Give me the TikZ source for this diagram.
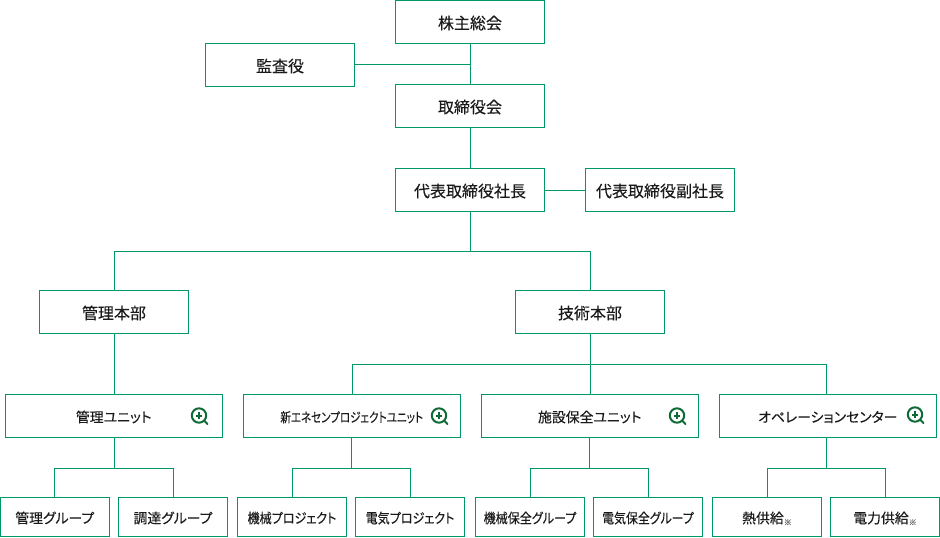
\documentclass[tikz,border=0pt]{standalone}
\usepackage{graphicx}
\usepackage{fontspec}
\setmainfont{Noto Sans CJK JP}[RawFeature={+palt}, FakeBold=0.2]
\definecolor{linegreen}{HTML}{009966}
\definecolor{icongreen}{HTML}{0F6B35}
\definecolor{labelgray}{HTML}{1A1A1A}
\tikzset{
  orgbox/.style={rectangle, draw=linegreen, line width=0.75pt, outer sep=0pt, inner sep=0pt, text=labelgray},
  topbox/.style={orgbox, minimum width=111.75pt, minimum height=32.25pt, text height=10.6pt, text depth=0pt, font=\fontsize{12pt}{14pt}\selectfont},
  unitbox/.style={orgbox, minimum width=162.4pt, minimum height=32.25pt, text height=9.4pt, text depth=0pt, font=\fontsize{10.4pt}{13pt}\selectfont},
  leafbox/.style={orgbox, minimum width=81.75pt, minimum height=29.25pt, text height=9.4pt, text depth=0pt, font=\fontsize{10.4pt}{13pt}\selectfont},
  conn/.style={draw=linegreen, line width=0.75pt},
  zoomicon/.pic={
    \draw[icongreen, line width=1.5pt] (0, 0) circle (5.4pt);
    \draw[icongreen, line width=1.5pt, line cap=round] (4pt, -4pt) -- (6.4pt, -6.4pt);
    \draw[icongreen, line width=1.5pt] (-2.6pt, 0) -- (2.6pt, 0) (0, -2.6pt) -- (0, 2.6pt);
  }
}
\newcommand{\kome}{\raisebox{-1.5pt}{\fontsize{6pt}{6pt}\selectfont\color{labelgray!65}※}}
\newcommand{\squeeze}[2]{\scalebox{#1}[1]{#2}}
\begin{document}
\begin{tikzpicture}[x=0.75pt, y=-0.75pt]
  \useasboundingbox (0, 0) rectangle (940, 537);
  % upper chain
  \node (soukai) [topbox] at (470, 22) {株主総会};
  \node (kansa) [topbox] at (280, 65) {監査役};
  \node (torishimari) [topbox] at (470, 106) {取締役会};
  \node (shachou) [topbox] at (470, 190) {代表取締役社長};
  \node (fukushachou) [topbox] at (660, 190) {代表取締役副社長};
  \node (kanri) [topbox] at (114, 312) {管理本部};
  \node (gijutsu) [topbox] at (590, 312) {技術本部};
  % units
  \node (unitkanri) [unitbox] at (113.75, 416) {管理ユニット};
  \node (unitshin) [unitbox] at (351.75, 416) {\squeeze{0.79}{\fontsize{10pt}{12pt}\selectfont 新エネセンプロジェクトユニット}};
  \node (unitshisetsu) [unitbox] at (589.75, 416) {施設保全ユニット};
  \node (unitope) [unitbox] at (827.75, 416) {オペレーションセンター};
  % groups
  \node (kanrigr) [leafbox] at (54.75, 517) {管理グループ};
  \node (chotatsu) [leafbox] at (173, 517) {調達グループ};
  \node (kikaipj) [leafbox] at (292, 517) {\squeeze{0.87}{機械プロジェクト}};
  \node (denkipj) [leafbox] at (410, 517) {\squeeze{0.87}{電気プロジェクト}};
  \node (kikaiho) [leafbox] at (530, 517) {\squeeze{0.87}{機械保全グループ}};
  \node (denkiho) [leafbox] at (648, 517) {\squeeze{0.86}{電気保全グループ}};
  \node (netsu) [leafbox] at (767, 517) {熱供給\kome};
  \node (denryoku) [leafbox] at (885, 517) {電力供給\kome};
  % junctions
  \coordinate (kansabus) at (470, 64.5);
  \coordinate (shachoubus) at (470, 251.5);
  \coordinate (gijutsubus) at (590, 364.5);
  \coordinate (kanribus) at (114, 468.5);
  \coordinate (shinbus) at (351.5, 468.5);
  \coordinate (shisetsubus) at (589.5, 468.5);
  \coordinate (opebus) at (826.5, 468.5);
  % connectors
  \draw[conn] (soukai) -- (torishimari);
  \draw[conn] (kansa.east |- kansabus) -- (kansabus);
  \draw[conn] (torishimari) -- (shachou);
  \draw[conn] (shachou) -- (fukushachou);
  \draw[conn] (shachou) -- (shachoubus);
  \draw[conn] (kanri.north) |- (shachoubus) -| (gijutsu.north);
  \draw[conn] (kanri) -- (unitkanri.north -| kanri);
  \draw[conn] (gijutsu) -- (gijutsubus);
  \draw[conn] (gijutsubus) -- (gijutsubus |- unitshisetsu.north);
  \draw[conn] (unitshin.north -| 352.3, 0) |- (gijutsubus) -| (unitope.north -| opebus);
  \draw[conn] (kanribus |- unitkanri.south) -- (kanribus);
  \draw[conn] (shinbus |- unitshin.south) -- (shinbus);
  \draw[conn] (shisetsubus |- unitshisetsu.south) -- (shisetsubus);
  \draw[conn] (opebus |- unitope.south) -- (opebus);
  \draw[conn] (kanrigr.north) |- (kanribus) -| (chotatsu.north);
  \draw[conn] (kikaipj.north) |- (shinbus) -| (denkipj.north);
  \draw[conn] (kikaiho.north) |- (shisetsubus) -| (denkiho.north);
  \draw[conn] (netsu.north) |- (opebus) -| (denryoku.north);
  % zoom marks
  \pic (iconkanri) at (199, 415.5) {zoomicon};
  \pic (iconshin) at (439, 415.5) {zoomicon};
  \pic (iconshisetsu) at (677, 415.5) {zoomicon};
  \pic (iconope) at (915, 414.5) {zoomicon};
\end{tikzpicture}
\end{document}
